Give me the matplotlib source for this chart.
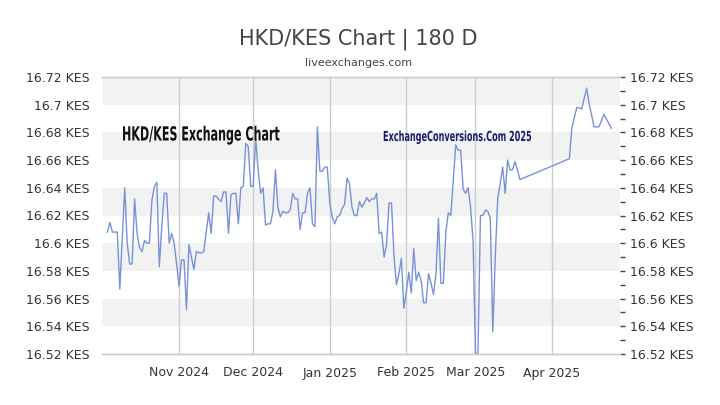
import matplotlib
matplotlib.use("Agg")
import matplotlib.pyplot as plt
import matplotlib.dates as mdates
from matplotlib.patheffects import AbstractPathEffect
from matplotlib.transforms import Affine2D
import numpy as np
from datetime import datetime

dates = [
    "2024-10-03", "2024-10-04", "2024-10-05", "2024-10-07", "2024-10-08", "2024-10-10",
    "2024-10-11", "2024-10-12", "2024-10-13", "2024-10-14", "2024-10-15", "2024-10-16",
    "2024-10-17", "2024-10-18", "2024-10-19", "2024-10-20", "2024-10-21", "2024-10-22",
    "2024-10-23", "2024-10-24", "2024-10-25", "2024-10-26", "2024-10-27", "2024-10-28",
    "2024-10-29", "2024-10-30", "2024-10-31",
    "2024-11-01", "2024-11-02", "2024-11-03", "2024-11-04", "2024-11-05", "2024-11-06",
    "2024-11-07", "2024-11-08", "2024-11-09", "2024-11-10", "2024-11-11", "2024-11-13",
    "2024-11-14", "2024-11-15", "2024-11-16", "2024-11-17", "2024-11-18", "2024-11-19",
    "2024-11-20", "2024-11-21", "2024-11-22", "2024-11-23", "2024-11-24", "2024-11-25",
    "2024-11-26", "2024-11-27", "2024-11-28", "2024-11-29", "2024-11-30",
    "2024-12-01", "2024-12-02", "2024-12-03", "2024-12-04", "2024-12-05", "2024-12-06",
    "2024-12-07", "2024-12-08", "2024-12-09", "2024-12-10", "2024-12-11", "2024-12-12",
    "2024-12-13", "2024-12-14", "2024-12-15", "2024-12-16", "2024-12-17", "2024-12-18",
    "2024-12-19", "2024-12-20", "2024-12-21", "2024-12-22", "2024-12-23", "2024-12-24",
    "2024-12-25", "2024-12-26", "2024-12-27", "2024-12-28", "2024-12-29", "2024-12-30",
    "2024-12-31",
    "2025-01-01", "2025-01-02", "2025-01-03", "2025-01-04", "2025-01-05", "2025-01-06",
    "2025-01-07", "2025-01-08", "2025-01-09", "2025-01-10", "2025-01-11", "2025-01-12",
    "2025-01-13", "2025-01-14", "2025-01-15", "2025-01-16", "2025-01-17", "2025-01-18",
    "2025-01-19", "2025-01-20", "2025-01-21", "2025-01-22", "2025-01-23", "2025-01-24",
    "2025-01-25", "2025-01-26", "2025-01-27", "2025-01-28", "2025-01-29", "2025-01-30",
    "2025-01-31",
    "2025-02-01", "2025-02-02", "2025-02-03", "2025-02-04", "2025-02-05", "2025-02-06",
    "2025-02-07", "2025-02-08", "2025-02-09", "2025-02-10", "2025-02-11", "2025-02-12",
    "2025-02-13", "2025-02-14", "2025-02-15", "2025-02-16", "2025-02-17", "2025-02-18",
    "2025-02-19", "2025-02-20", "2025-02-21", "2025-02-22", "2025-02-23", "2025-02-24",
    "2025-02-25", "2025-02-26", "2025-02-27", "2025-02-28",
    "2025-03-01", "2025-03-02", "2025-03-03", "2025-03-04", "2025-03-05", "2025-03-06",
    "2025-03-07", "2025-03-08", "2025-03-09", "2025-03-10", "2025-03-11", "2025-03-12",
    "2025-03-13", "2025-03-14", "2025-03-15", "2025-03-16", "2025-03-17", "2025-03-19",
    "2025-04-08", "2025-04-09", "2025-04-11", "2025-04-13", "2025-04-15", "2025-04-16",
    "2025-04-18", "2025-04-20", "2025-04-22", "2025-04-25",
]

rates = [
    16.608, 16.615, 16.608, 16.608, 16.567, 16.640,
    16.600, 16.585, 16.585, 16.632, 16.607, 16.597,
    16.594, 16.602, 16.600, 16.600, 16.631, 16.641,
    16.644, 16.583, 16.612, 16.636, 16.636, 16.600,
    16.607, 16.600, 16.585,
    16.569, 16.588, 16.588, 16.552, 16.599, 16.590,
    16.581, 16.594, 16.593, 16.593, 16.594, 16.622,
    16.607, 16.634, 16.634, 16.632, 16.630, 16.637,
    16.637, 16.607, 16.635, 16.636, 16.636, 16.614,
    16.640, 16.641, 16.672, 16.670, 16.641,
    16.641, 16.676, 16.653, 16.636, 16.640, 16.613,
    16.614, 16.614, 16.623, 16.653, 16.626, 16.619,
    16.623, 16.622, 16.622, 16.624, 16.636, 16.632,
    16.632, 16.610, 16.622, 16.622, 16.636, 16.640,
    16.614, 16.612, 16.684, 16.652, 16.652, 16.655,
    16.655,
    16.629, 16.619, 16.614, 16.619, 16.620, 16.625,
    16.628, 16.647, 16.643, 16.626, 16.620, 16.620,
    16.630, 16.626, 16.629, 16.633, 16.630, 16.632,
    16.632, 16.636, 16.607, 16.608, 16.590, 16.599,
    16.629, 16.629, 16.591, 16.570, 16.578, 16.589,
    16.553,
    16.565, 16.579, 16.564, 16.596, 16.573, 16.579,
    16.573, 16.557, 16.557, 16.578, 16.571, 16.563,
    16.578, 16.618, 16.571, 16.571, 16.608, 16.622,
    16.620, 16.646, 16.671, 16.667, 16.667, 16.639,
    16.636, 16.640, 16.626, 16.602,
    16.520, 16.520, 16.620, 16.620, 16.624, 16.623,
    16.618, 16.536, 16.590, 16.632, 16.643, 16.655,
    16.636, 16.660, 16.653, 16.653, 16.659, 16.646,
    16.661, 16.683, 16.698, 16.697, 16.712, 16.701,
    16.684, 16.684, 16.693, 16.683,
]

month_ticks = ["2024-11-01", "2024-12-01", "2025-01-01", "2025-02-01", "2025-03-01", "2025-04-01"]
month_labels = ["Nov 2024", "Dec 2024", "Jan 2025", "Feb 2025", "Mar 2025", "Apr 2025"]
y_ticks = [16.52, 16.54, 16.56, 16.58, 16.60, 16.62, 16.64, 16.66, 16.68, 16.70, 16.72]
y_labels = ["16.52 KES", "16.54 KES", "16.56 KES", "16.58 KES", "16.6 KES", "16.62 KES",
            "16.64 KES", "16.66 KES", "16.68 KES", "16.7 KES", "16.72 KES"]

title = "HKD/KES Chart | 180 D"
subtitle = "liveexchanges.com"
inner_title = "HKD/KES Exchange Chart"
watermark = "ExchangeConversions.Com 2025"


class HStretch(AbstractPathEffect):
    """Squeeze text horizontally about a display x position (condensed look)."""

    def __init__(self, sx, x0):
        super().__init__()
        self.sx = sx
        self.x0 = x0

    def draw_path(self, renderer, gc, tpath, affine, rgbFace=None):
        a = affine + Affine2D().translate(-self.x0, 0).scale(self.sx, 1).translate(self.x0, 0)
        renderer.draw_path(gc, tpath, a, rgbFace)


x = [datetime.strptime(d, "%Y-%m-%d") for d in dates]
xt = [datetime.strptime(d, "%Y-%m-%d") for d in month_ticks]

fig = plt.figure(figsize=(7.2, 4.05), dpi=100)
ax = fig.add_axes([102 / 720, 1 - 354 / 405, 518 / 720, 277 / 405])

nov1 = mdates.date2num(datetime(2024, 11, 1))
ax.set_xlim(nov1 - 31.2, nov1 + 178.5)
ax.set_ylim(16.52, 16.72)

for i in range(len(y_ticks) - 1):
    if (len(y_ticks) - 2 - i) % 2 == 0:
        ax.axhspan(y_ticks[i], y_ticks[i + 1], color="#f2f2f2", zorder=0, lw=0)

for t in xt:
    ax.axvline(t, color="#cccccc", lw=1, zorder=1)

ax.plot(x, rates, color="#7892d8", lw=1.0, zorder=3)

ax.set_xticks(xt)
ax.set_xticklabels(month_labels)
ax.set_yticks(y_ticks)
ax.set_yticklabels(y_labels)

ax.tick_params(axis="x", length=0, pad=9, labelsize=9, colors="#333333")
ax.tick_params(axis="y", which="both", left=False, right=False, labelleft=True,
               labelright=False, length=0, labelsize=9, labelcolor="#333333", pad=9)

# right-hand axis with small ticks every 0.01 and labels every 0.02
axr = ax.twinx()
axr.set_ylim(16.52, 16.72)
axr.set_yticks(y_ticks)
axr.set_yticklabels(y_labels)
axr.set_yticks(np.arange(16.52, 16.7201, 0.01), minor=True)
axr.tick_params(axis="y", which="both", right=True, length=3.5, width=1, color="#444444",
                labelsize=9, labelcolor="#333333", pad=3.5)

for a in (ax, axr):
    for s in ["left", "right"]:
        a.spines[s].set_visible(False)
    for s in ["top", "bottom"]:
        a.spines[s].set_color("#cccccc")
        a.spines[s].set_linewidth(1)

fig.text(358 / 720, 1 - 39 / 405, title, ha="center", va="center", fontsize=15,
         color="#444444")
fig.text(359 / 720, 1 - 63 / 405, subtitle, ha="center", va="center", fontsize=8,
         color="#444444")

t1 = ax.text((122 - 102) / 518, (354 - 135) / 277, inner_title, transform=ax.transAxes,
             ha="left", va="center", family="DejaVu Sans", fontweight="bold",
             fontsize=14, color="#111111", zorder=4)
t2 = ax.text((383 - 102) / 518, (354 - 137) / 277, watermark, transform=ax.transAxes,
             ha="left", va="center", family="DejaVu Sans", fontweight="bold",
             fontsize=10, color="#1c1c6e", zorder=4)

# condense the two inner labels to the widths seen in the reference
fig.canvas.draw()
r = fig.canvas.get_renderer()
for t, target in ((t1, 158.0), (t2, 149.0)):
    bb = t.get_window_extent(r)
    t.set_path_effects([HStretch(target / bb.width, bb.x0)])

fig.savefig("out.png", dpi=100, facecolor="white")
